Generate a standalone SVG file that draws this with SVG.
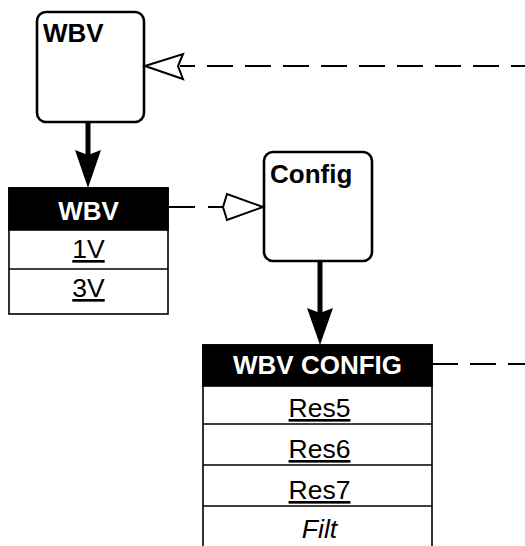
<svg xmlns="http://www.w3.org/2000/svg" width="525" height="546" viewBox="0 0 525 546">
  <style>
    .box { fill: #fff; stroke: #000; stroke-width: 2.6; }
    .tbl { fill: #fff; stroke: #000; stroke-width: 1.6; }
    .hdr { fill: #000; stroke: #000; stroke-width: 1.6; }
    .t { font-family: "Liberation Sans", Arial, sans-serif; font-size: 26.5px; fill: #000; }
    .b { font-weight: bold; font-size: 26px; }
    .w { fill: #fff; }
    .u { text-decoration: underline; }
    .i { font-style: italic; }
    .dash { fill: none; stroke: #000; stroke-width: 2.2; stroke-dasharray: 26 12; }
    .solid { fill: none; stroke: #000; stroke-width: 5; }
    .open { fill: #fff; stroke: #000; stroke-width: 2; stroke-linejoin: miter; }
  </style>

  <g id="node-wbv-box">
    <rect class="box" x="37" y="12" width="107" height="110" rx="9"/>
    <text class="t b" x="43" y="42">WBV</text>
  </g>

  <g id="node-config-box">
    <rect class="box" x="264" y="152" width="108" height="109" rx="9"/>
    <text class="t b" x="270" y="183">Config</text>
  </g>

  <g id="node-wbv-table">
    <rect class="tbl" x="9" y="188" width="159" height="126"/>
    <rect class="hdr" x="9" y="188" width="159" height="42"/>
    <line x1="9" y1="269" x2="168" y2="269" stroke="#000" stroke-width="1.6"/>
    <text class="t b w" x="88.5" y="220" text-anchor="middle">WBV</text>
    <text class="t u" x="88.5" y="258" text-anchor="middle">1V</text>
    <text class="t u" x="88.5" y="297" text-anchor="middle">3V</text>
  </g>

  <g id="node-wbv-config-table">
    <rect class="tbl" x="203" y="345" width="229" height="210"/>
    <rect class="hdr" x="203" y="345" width="229" height="41"/>
    <line x1="203" y1="424" x2="432" y2="424" stroke="#000" stroke-width="1.6"/>
    <line x1="203" y1="465" x2="432" y2="465" stroke="#000" stroke-width="1.6"/>
    <line x1="203" y1="506" x2="432" y2="506" stroke="#000" stroke-width="1.6"/>
    <text class="t b w" x="317.5" y="374" text-anchor="middle">WBV CONFIG</text>
    <text class="t u" x="319.5" y="417" text-anchor="middle">Res5</text>
    <text class="t u" x="319.5" y="458" text-anchor="middle">Res6</text>
    <text class="t u" x="319.5" y="499" text-anchor="middle">Res7</text>
    <text class="t i" x="319.5" y="538" text-anchor="middle">Filt</text>
  </g>

  <g id="connectors">
    <!-- dashed into WBV box from right -->
    <path class="dash" d="M525,66 H180" stroke-dashoffset="12"/>
    <polygon class="open" points="145,66 183,54 178,66 183,79"/>

    <!-- WBV box down to WBV table -->
    <line class="solid" x1="88" y1="122" x2="88" y2="160"/>
    <polygon points="75,150 88,188 101,150 88,155" fill="#000"/>

    <!-- WBV table dashed to Config -->
    <path class="dash" d="M168,207 H224" style="stroke-dasharray:27 13"/>
    <polygon class="open" points="263,207 227,194 223,207 227,220"/>

    <!-- Config down to WBV CONFIG table -->
    <line class="solid" x1="320" y1="261" x2="320" y2="318"/>
    <polygon points="307,308 320,345 333,308 320,313" fill="#000"/>

    <!-- WBV CONFIG dashed to right -->
    <path class="dash" d="M432,364 H525"/>
  </g>
</svg>
